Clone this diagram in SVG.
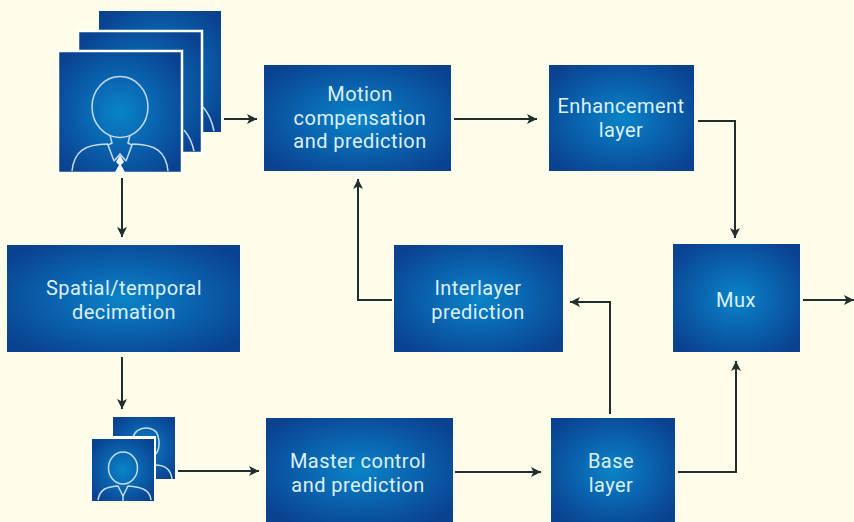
<svg xmlns="http://www.w3.org/2000/svg" width="854" height="522" viewBox="0 0 854 522">
<defs>
<radialGradient id="g" cx="50%" cy="50%" r="62%"><stop offset="0" stop-color="#0a84c8"/><stop offset="0.5" stop-color="#0a62ad"/><stop offset="1" stop-color="#0a4290"/></radialGradient>
<marker id="a" markerUnits="userSpaceOnUse" markerWidth="12" markerHeight="12" refX="10" refY="5" orient="auto"><path d="M0 0L10 5L0 10L2.500 5Z" fill="#1f2e2e"/></marker>
</defs>
<style>
text{font-family:"Roboto","Liberation Sans",sans-serif;font-size:20px;fill:#dcf0fa;text-anchor:middle;letter-spacing:.45px}
.b{fill:url(#g)}
.f{fill:url(#g);stroke:#fff;stroke-width:2.500}
.p{fill:none;stroke:#c5dcf0;stroke-width:1.500}
.c{fill:none;stroke:#1f2e2e;stroke-width:2;marker-end:url(#a)}
</style>
<rect width="854" height="522" fill="#fefde9"/>
<g id="connectors">
<path class="c" d="M224 119H257"/>
<path class="c" d="M122 178V237"/>
<path class="c" d="M122 357V409"/>
<path class="c" d="M178 471H259"/>
<path class="c" d="M454 119H537"/>
<path class="c" d="M698 121H735V238"/>
<path class="c" d="M392 300H358V179"/>
<path class="c" d="M610 414V302H570"/>
<path class="c" d="M455 472H541"/>
<path class="c" d="M678 472H736V361"/>
<path class="c" d="M803 300H854"/>
</g>
<g id="frames-large">
<rect class="b" x="99" y="11" width="122" height="121"/>
<path class="p" d="M203 107Q211 116 214 131"/>
<rect class="f" x="78" y="31" width="124" height="122"/>
<path class="p" d="M184 130Q191 138 194 151"/>
<rect class="f" x="58" y="51" width="124" height="122"/>
<ellipse class="p" cx="120" cy="107" rx="28" ry="30.500"/>
<path class="p" d="M110 135L112 143L108 145L114 161M130 135L128 143L132 145L126 161M72 171C74 152 84 144 108 144M168 171C166 152 156 144 132 144M114 161L120 154L126 161"/>
<path d="M120 155L124 162L121 165L125 172H115L119 165L116 162Z" fill="#f2f6fa"/>
</g>
<g id="frames-small">
<rect class="b" x="113" y="417" width="62" height="62"/>
<path class="p" d="M133 438C135 425 156 425 158 436C161 445 158 452 155 455M155 465C166 465 171 470 172 479"/>
<rect x="90" y="436" width="66" height="66" fill="#fff"/>
<rect class="b" x="92" y="439" width="62" height="62"/>
<ellipse class="p" cx="123" cy="468" rx="14.500" ry="16"/>
<path class="p" d="M98 500C100 489 106 487 118 486L123 496L128 486C140 487 150 489 151 500M123 496V501"/>
</g>
<g id="motion"><rect class="b" x="264" y="65" width="187" height="106"/><text x="360" y="101">Motion</text><text x="360" y="125">compensation</text><text x="360" y="148">and prediction</text></g>
<g id="enhancement"><rect class="b" x="549" y="65" width="145" height="106"/><text x="621" y="113">Enhancement</text><text x="621" y="137">layer</text></g>
<g id="decimation"><rect class="b" x="7" y="245" width="233" height="107"/><text x="124" y="295">Spatial/temporal</text><text x="124" y="319">decimation</text></g>
<g id="interlayer"><rect class="b" x="394" y="245" width="169" height="107"/><text x="478" y="295">Interlayer</text><text x="478" y="319">prediction</text></g>
<g id="mux"><rect class="b" x="673" y="244" width="127" height="108"/><text x="736" y="307">Mux</text></g>
<g id="master"><rect class="b" x="266" y="418" width="187" height="104"/><text x="358" y="468">Master control</text><text x="358" y="492">and prediction</text></g>
<g id="base"><rect class="b" x="551" y="418" width="124" height="104"/><text x="611" y="468">Base</text><text x="611" y="492">layer</text></g>
</svg>
